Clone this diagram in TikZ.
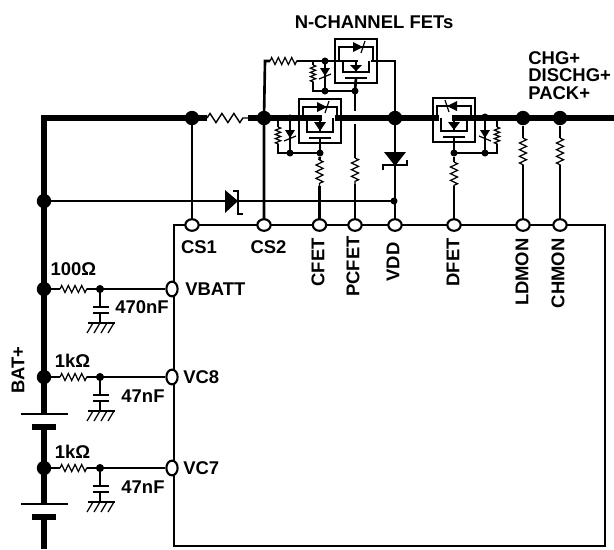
\documentclass[tikz,border=0pt]{standalone}
\usepackage{fontspec}
\setmainfont{Liberation Sans}
\usetikzlibrary{shapes.geometric,decorations.pathmorphing}
\tikzset{
	buswire/.style={line width=3.2pt},
	wire/.style={line width=1.5pt},
	thinwire/.style={line width=0.7pt},
	res/.style={line width=0.7pt, decorate, decoration={zigzag, segment length=3.8pt, amplitude=2pt}},
	smallres/.style={line width=0.7pt, decorate, decoration={zigzag, segment length=2.4pt, amplitude=1.5pt}},
	bigdot/.style={circle, fill=black, inner sep=0pt, minimum size=8.2pt},
	smalldot/.style={circle, fill=black, inner sep=0pt, minimum size=4pt},
	pin/.style={ellipse, draw=black, line width=1.2pt, fill=white, inner sep=0pt, minimum width=7.6pt, minimum height=6.6pt},
	sidepin/.style={pin, minimum width=6.4pt, minimum height=8.4pt},
	lab/.style={inner sep=0pt, font=\bfseries\fontsize{10.5}{9.7}\selectfont},
	pics/fet/.style={code={
			% Outer box and body
			\draw[line width=1.1pt] (-21,0) rectangle (21,44);
			\draw[wire] (-17,#1) -- (-17,8) -- (17,8) -- (17,#1);
			\draw[wire] (-13,#1) -- (-13,33) -- (13,33) -- (13,#1);
			\draw[wire] (0,#1) -- (0,33);
			\draw[wire] (-11,39) -- (11,39);
			% Body diodes
			\fill (-3,3) -- (-3,13) -- (7,8) -- cycle;
			\draw[thinwire] (9,2) -- (5,14);
			\fill (-6,#1+4) -- (6,#1+4) -- (0,32) -- cycle;
			% Ends of the channel
			\coordinate (-a) at (2,#1);
			\coordinate (-b) at (15,#1);
			\coordinate (-g) at (0,39);
		}},
	pics/bleed/.style={code={
			% Gate resistor and zener
			\draw[wire] (0,-#1) -- (0,-26);
			\draw[smallres] (0,-26) -- (0,-9);
			\draw[wire] (0,-9) -- (0,0) -- (42,0);
			\draw[wire] (12,-#1) -- (12,0);
			\fill (7,-23) -- (17,-23) -- (12,-15) -- cycle;
			\draw[thinwire] (6,-12) -- (18,-17);
			\node[smalldot] (-t) at (12,-#1) {};
			\node[smalldot] (-n) at (12,0) {};
		}}
}

\begin{document}
\begin{tikzpicture}[x=0.02cm, y=-0.02cm]
	\useasboundingbox (0,0) rectangle (614,549);

	% IC outline
	\draw[wire] (174,225) rectangle (605,546);

	% Junctions on the pack side
	\foreach \name/\x/\yy in {ja/192/118, jb/264/118, jc/395/118, jd/523/118, je/560/118, ba/44/201, bb/44/289, bc/44/377, bd/44/468} {
		\node[bigdot] (\name) at (\x,\yy) {};
	}
	\coordinate (corner) at (44,118);
	\coordinate (busend) at (614,118);

	% FETs
	\pic (qc) at (320,99) {fet=19};
	\pic (qp) at (356,39) {fet=22};
	\pic[xscale=-1] (qd) at (454,98) {fet=20};

	% Gate networks
	\pic (bc1) at (278,153) {bleed=35};
	\pic (bp1) at (313,91) {bleed=30};
	\pic[xscale=-1] (bd1) at (497,153) {bleed=36};
	\node[smalldot] (gc) at (320,153) {};
	\node[smalldot] (gp) at (355,91) {};
	\node[smalldot] (gd) at (454,153) {};
	\node[smalldot] (jv) at (394,201) {};

	% Top row of pins
	\foreach \name/\x in {cs1/192, cs2/264, cf/319.5, pf/355, vd/395, df/454, ld/523, ch/560} {
		\coordinate (p\name) at (\x,225);
	}

	% Main bus
	\coordinate (ra) at (207,118);
	\coordinate (rb) at (248,118);
	\draw[buswire, line join=miter] (bb.center) -- (ba.center) -- (corner) -- (ja.center) -- (ra);
	\draw[res, line width=0.8pt, decoration={segment length=6.8pt, amplitude=2.6pt}] (ra) -- (rb);
	\draw[buswire] (rb) -- (jb.center) -- (qc-a);
	\draw[buswire] (qc-b) -- (jc.center) -- (qd-b);
	\draw[buswire] (qd-a) -- (jd.center) -- (je.center) -- (busend);

	% Upper FET path
	\coordinate (ua) at (265,61);
	\coordinate (ub) at (270,61);
	\coordinate (uc) at (297,61);
	\coordinate (ud) at (395,61);
	\draw[wire] (pcs2) -- (jb.center) -- (ua) -- (ub);
	\draw[res] (ub) -- (uc);
	\draw[wire] (uc) -- (qp-a);
	\draw[wire] (qp-b) -- (ud) -- (jc.center);

	% Sense and gate wires
	\draw[wire] (pcs1) -- (ja.center);
	\draw[wire] (qc-g) -- (gc.center);
	\draw[wire] (qp-g) -- (gp.center);
	\draw[wire] (qd-g) -- (gd.center);
	\coordinate (pa) at (355,111);
	\coordinate (pb) at (355,124);
	\draw[wire] (gp.center) -- (pa);
	\foreach \from/\top/\bot/\pinname in {gc/160/186/pcf, pb/158/184/ppf, gd/162/186/pdf, jd/138/165/pld, je/138/165/pch} {
		\path (\pinname) ++(0,{\top-225}) coordinate (rt) (\pinname) ++(0,{\bot-225}) coordinate (rl);
		\draw[wire] (\from) -- (rt);
		\draw[res] (rt) -- (rl);
		\draw[wire] (rl) -- (\pinname);
	}

	% VDD zener
	\draw[wire] (jc.center) -- (pvd);
	\fill (384,152) -- (406,152) -- (395,166) -- cycle;
	\draw[line width=1.1pt] (383,170) -- (383,165) -- (407,165) -- (407,160);

	% Diode from the battery
	\draw[wire] (ba.center) -- (jv.center);
	\fill (225,190) -- (225,213) -- (238,201) -- cycle;
	\draw[line width=1.1pt] (233,191) -- (238,191) -- (238,214) -- (243,214);

	% Pins on top of the wires
	\foreach \name in {cs1, cs2, cf, pf, vd, df, ld, ch} {
		\node[pin] (n\name) at (p\name) {};
	}

	% Battery stack
	\coordinate (pla) at (44,414);
	\coordinate (plb) at (44,427);
	\coordinate (plc) at (44,504);
	\coordinate (pld) at (44,517);
	\coordinate (stackend) at (44,549);
	\draw[buswire] (bb.center) -- (bc.center) -- (pla);
	\draw[buswire] (plb) -- (bd.center) -- (plc);
	\draw[buswire] (pld) -- (stackend);
	\foreach \yy in {414,504} {
		\draw[line width=1pt] (21,\yy) -- (68,\yy);
	}
	\foreach \yy in {427,517} {
		\draw[line width=3.9pt] (32,\yy) -- (56,\yy);
	}

	% RC filters
	\foreach \name/\jn/\yy/\rl/\rx/\ry/\cl/\cx/\cy in {vb/bb/289/100Ω/73.5/269/470nF/142/307, ve/bc/377/1kΩ/72.5/361/47nF/143/396, vs/bd/468/1kΩ/72.5/452/47nF/143/487} {
		\node[smalldot, minimum size=4.6pt] (f\name) at (100,\yy) {};
		\node[sidepin] (s\name) at (172,\yy) {};
		\coordinate (ra\name) at (60,\yy);
		\coordinate (rb\name) at (87,\yy);
		\coordinate (ca\name) at (100,{\yy+18});
		\coordinate (cb\name) at (100,{\yy+24});
		\coordinate (gr\name) at (100,{\yy+34});
		\draw[wire] (\jn.center) -- (ra\name);
		\draw[res] (ra\name) -- (rb\name);
		\draw[wire] (rb\name) -- (f\name.center) -- (s\name);
		\draw[wire] (f\name.center) -- (ca\name);
		\draw[wire] (cb\name) -- (gr\name);
		\draw[wire] (93,{\yy+18}) -- (109,{\yy+18});
		\draw[wire] (93,{\yy+24}) -- (109,{\yy+24});
		\draw[line width=1pt] (88,{\yy+34}) -- (115,{\yy+34});
		\foreach \k in {0,1,2,3} {
			\draw[thinwire] ({93+7*\k},{\yy+34}) -- ++(-6,10);
		}
		\node[lab] (l\name) at (\rx,\ry) {\rl};
		\node[lab] (c\name) at (\cx,\cy) {\cl};
	}

	% Pin labels
	\node[lab] (tcs1) at (199,247) {CS1};
	\node[lab] (tcs2) at (268.5,247) {CS2};
	\foreach \name/\x/\yy/\txt in {cf/318/238/CFET, pf/353/236/PCFET, vd/393/242/VDD, df/453/238/DFET, ld/522/238/LDMON, ch/558/238/CHMON} {
		\node[lab, rotate=90, anchor=east] (t\name) at (\x,\yy) {\txt};
	}
	\node[lab, anchor=west] (tvb) at (185,289) {VBATT};
	\node[lab, anchor=west] (tve) at (183,377) {VC8};
	\node[lab, anchor=west] (tvs) at (183,468) {VC7};

	% Other labels
	\node[lab] (title) at (374,22) {N-CHANNEL FETs};
	\node[lab, anchor=west, align=left, font=\bfseries\fontsize{10.5}{9.9}\selectfont] (rails) at (528,75.5) {CHG+\\DISCHG+\\PACK+};
	\node[lab, rotate=90] (batlab) at (18,370) {BAT+};
\end{tikzpicture}
\end{document}
